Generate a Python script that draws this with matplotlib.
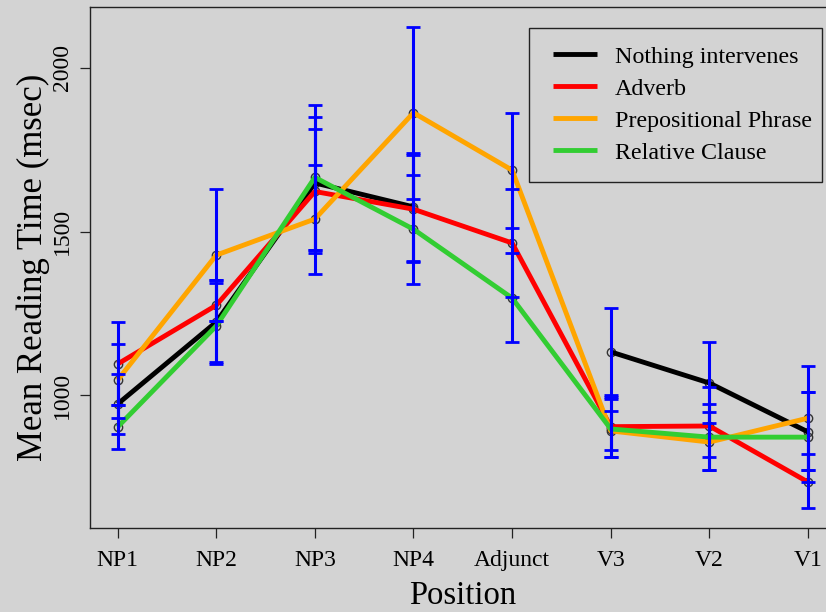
import matplotlib
matplotlib.use("Agg")
import matplotlib.pyplot as plt
import numpy as np
from matplotlib.patches import Rectangle

plt.rcParams["font.family"] = ["Liberation Serif", "DejaVu Serif"]

positions = ["NP1", "NP2", "NP3", "NP4", "Adjunct", "V3", "V2", "V1"]
nan = np.nan

# mean reading times per condition
nothing_mean = [974, 1224, 1648, 1575, nan, 1133, 1038, 889]
adverb_mean = [1096, 1275, 1622, 1568, 1465, 905, 907, 736]
pp_mean = [1047, 1428, 1538, 1862, 1687, 892, 858, 931]
rc_mean = [904, 1212, 1665, 1507, 1297, 898, 873, 873]

# error bar limits (lower / upper)
nothing_lo = [883, 1096, 1444, 1410, nan, 1000, 915, 773]
nothing_hi = [1066, 1352, 1849, 1740, nan, 1267, 1163, 1011]
adverb_lo = [971, 1227, 1434, 1407, 1300, 812, 812, 657]
adverb_hi = [1224, 1352, 1812, 1733, 1630, 996, 1026, 822]
pp_lo = [931, 1227, 1370, 1599, 1511, 812, 773, 773]
pp_hi = [1157, 1630, 1703, 2123, 1861, 989, 951, 1090]
rc_lo = [837, 1102, 1444, 1340, 1163, 834, 773, 736]
rc_hi = [971, 1343, 1886, 1672, 1434, 953, 974, 1011]

labels = ["Nothing intervenes", "Adverb", "Prepositional Phrase", "Relative Clause"]
colors = ["black", "#ff0000", "#ffa500", "#32cd32"]
means = [nothing_mean, adverb_mean, pp_mean, rc_mean]
los = [nothing_lo, adverb_lo, pp_lo, rc_lo]
his = [nothing_hi, adverb_hi, pp_hi, rc_hi]

W, H = 826, 612
bg = "#d3d3d3"
fig = plt.figure(figsize=(W / 100, H / 100), dpi=100, facecolor=bg)
ax = fig.add_axes([90 / W, 84 / H, (835.6 - 90) / W, 521 / H], facecolor=bg)

x = np.arange(1, len(positions) + 1)

handles = []
for m, c, lab in zip(means, colors, labels):
    m = np.asarray(m, dtype=float)
    ax.plot(x, m, "o", ms=6, mfc="none", mec="#333333", mew=1.0, zorder=2)
    (h,) = ax.plot(x, m, color=c, lw=3.5, solid_capstyle="butt", label=lab, zorder=3)
    handles.append(h)

for m, lo, hi in zip(means, los, his):
    m = np.asarray(m, dtype=float)
    lo = np.asarray(lo, dtype=float)
    hi = np.asarray(hi, dtype=float)
    ok = np.isfinite(m)
    ax.errorbar(x[ok], m[ok], yerr=[m[ok] - lo[ok], hi[ok] - m[ok]], fmt="none",
                ecolor="#0000ff", elinewidth=2.2, capsize=5, capthick=2.0, zorder=4)

ax.set_xlim(0.72, 8.28)
ax.set_ylim(596, 2184.5)
ax.set_xticks(x)
ax.set_xticklabels(positions)
ax.set_yticks([1000, 1500, 2000])
ax.set_yticklabels(["1000", "1500", "2000"], rotation=90, va="center")
ax.tick_params(axis="both", labelsize=17, length=7, width=0.9, color="#222222")
ax.tick_params(axis="x", pad=9)
ax.tick_params(axis="y", pad=5)

for side in ("left", "bottom", "top"):
    ax.spines[side].set_linewidth(1.0)
    ax.spines[side].set_color("#222222")
ax.spines["right"].set_visible(False)

ax.set_xlabel("Position", fontsize=23.5, labelpad=7)
ax.set_ylabel("Mean Reading Time (msec)", fontsize=25, labelpad=2)

# legend box drawn separately (R-style legend with uneven padding)
fig.add_artist(Rectangle((529 / W, 1 - 182 / H), (822 - 529) / W, (182 - 28) / H,
                         transform=fig.transFigure, facecolor=bg, edgecolor="#222222",
                         linewidth=1.0, zorder=5))
leg = fig.legend(handles=handles, loc="upper left", bbox_to_anchor=(553 / W, 1 - 46 / H),
                 fontsize=17.3, frameon=False, handlelength=1.83, handletextpad=0.75,
                 labelspacing=0.42, borderpad=0, borderaxespad=0)
leg.set_zorder(6)

fig.savefig("out.png", dpi=100, facecolor=bg)
